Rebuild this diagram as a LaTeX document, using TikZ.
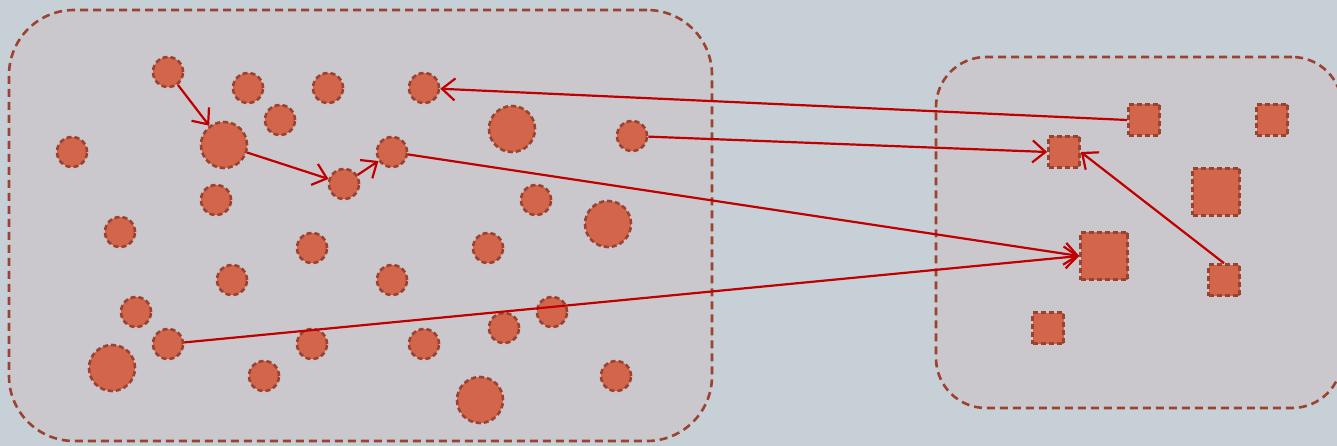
\documentclass[tikz,border=0pt]{standalone}
\usetikzlibrary{arrows.meta}
\definecolor{bgc}{RGB}{198,208,214}
\definecolor{panelc}{RGB}{202,200,204}
\definecolor{dotc}{RGB}{210,101,74}
\definecolor{edgec}{RGB}{155,67,50}
\definecolor{arrc}{RGB}{192,0,0}
\tikzset{
  panel/.style={draw=edgec, fill=panelc, line width=2.6pt, dash pattern=on 8pt off 5pt, rounded corners=#1, inner sep=0pt},
  dot/.style={circle, draw=edgec, fill=dotc, line width=2.6pt, dash pattern=on 5pt off 3pt, minimum size=#1, inner sep=0pt},
  dot/.default=30pt,
  big/.style={dot=46pt},
  sq/.style={rectangle, draw=edgec, fill=dotc, line width=2.6pt, dash pattern=on 5pt off 3pt, minimum size=#1, inner sep=0pt},
  sq/.default=31pt,
  link/.style={draw=arrc, line width=2.2pt, -{Straight Barb[length=13pt,width=22pt,line width=2.2pt]}}
}
\begin{document}
\begin{tikzpicture}[x=1pt,y=-1pt]
\useasboundingbox (0,0) rectangle (1337,446);
\fill[bgc] (0,0) rectangle (1337,446);
\node[panel=65pt, minimum width=703pt, minimum height=431pt] (L) at (360.5,225.5) {};
\node[panel=50pt, minimum width=406pt, minimum height=351pt] (R) at (1139,232.5) {};
% circles
\node[dot] (c1) at (168,72) {};
\node[dot] (c2) at (248,88) {};
\node[dot] (c3) at (328,88) {};
\node[dot] (c4) at (424,88) {};
\node[big] (c5) at (512,129) {};
\node[dot] (c6) at (280,120) {};
\node[big] (c7) at (224,145) {};
\node[dot] (c8) at (72,152) {};
\node[dot] (c9) at (392,152) {};
\node[dot] (c10) at (632,136) {};
\node[dot] (c11) at (344,184) {};
\node[dot] (c12) at (216,200) {};
\node[dot] (c13) at (536,200) {};
\node[big] (c14) at (608,224) {};
\node[dot] (c15) at (120,232) {};
\node[dot] (c16) at (312,248) {};
\node[dot] (c17) at (488,248) {};
\node[dot] (c18) at (232,280) {};
\node[dot] (c19) at (392,280) {};
\node[dot] (c20) at (136,312) {};
\node[dot] (c21) at (552,312) {};
\node[dot] (c22) at (168,344) {};
\node[dot] (c23) at (312,344) {};
\node[dot] (c24) at (424,344) {};
\node[dot] (c25) at (504,328) {};
\node[big] (c26) at (112,368) {};
\node[dot] (c27) at (264,376) {};
\node[dot] (c28) at (616,376) {};
\node[big] (c29) at (480,400) {};
% squares
\node[sq] (s1) at (1144,120) {};
\node[sq] (s2) at (1272,120) {};
\node[sq] (s3) at (1064,152) {};
\node[sq=47pt] (s4) at (1216,192) {};
\node[sq=47pt] (s5) at (1104,256) {};
\node[sq] (s6) at (1224,280) {};
\node[sq] (s7) at (1048,328) {};
% arrows
\draw[link] (c1) -- (c7);
\draw[link] (c7) -- (c11);
\draw[link] (c11) -- (c9);
\draw[link] (s1.west) -- (c4);
\draw[link] (c10) -- (s3.west);
\draw[link] (c9) -- (s5.west);
\draw[link] (c22) -- (s5.west);
\draw[link] (s6.north) -- (s3.east);
\end{tikzpicture}
\end{document}
